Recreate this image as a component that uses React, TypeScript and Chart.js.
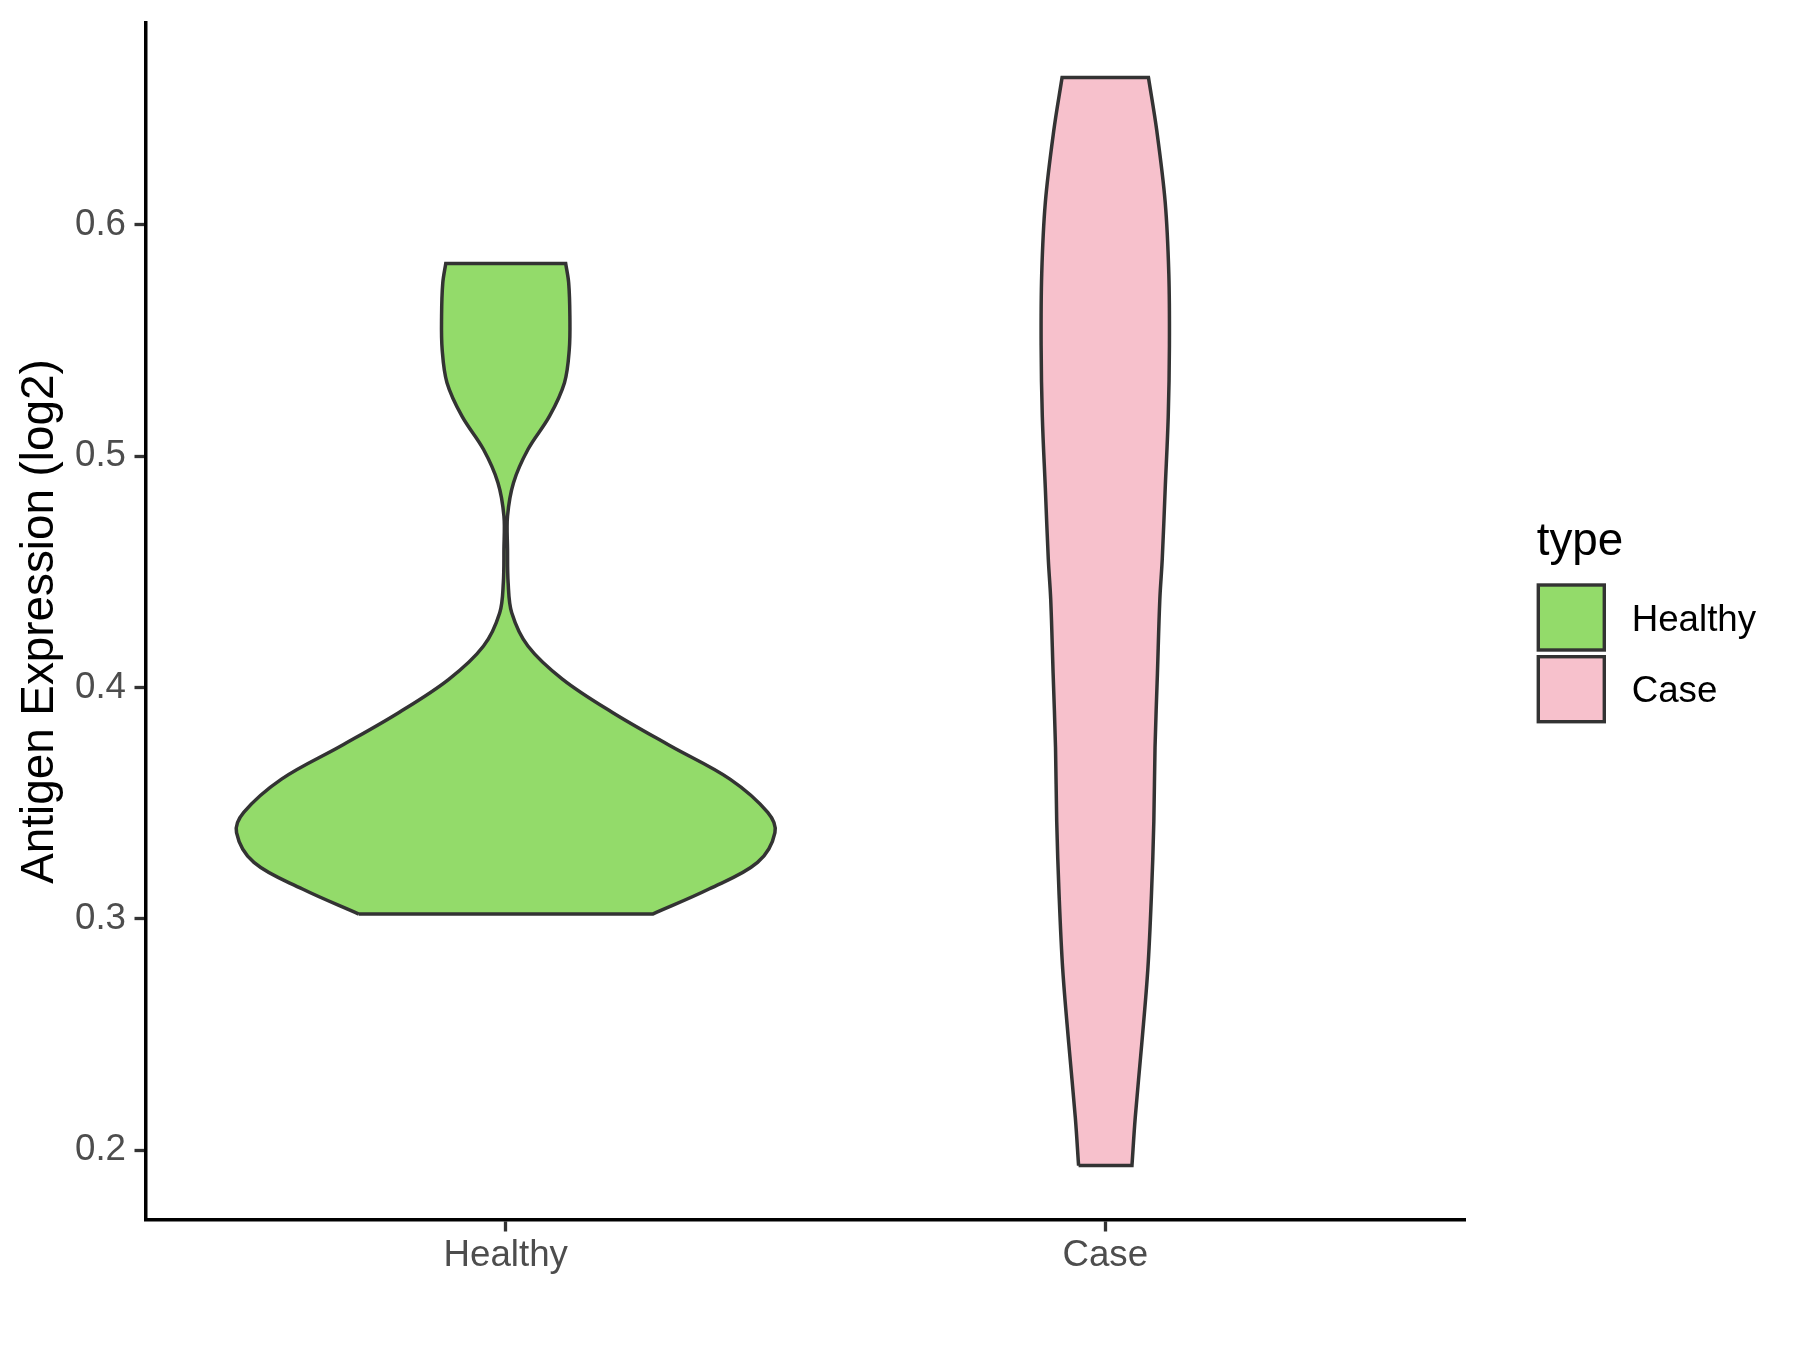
import React, { useEffect, useRef } from 'react';
import { Chart, registerables } from 'chart.js';

Chart.register(...registerables);

// ---- data ----
const categories = ['Healthy', 'Case'];
const fillColors = ['#93DB6A', '#F7C1CC'];
const legendTitle = 'type';
const yAxisTitle = 'Antigen Expression (log2)';
const yTicks = [0.2, 0.3, 0.4, 0.5, 0.6];
const yMin = 0.1699;
const yMax = 0.6871;

// Healthy violin outline: expression values (bottom -> top) and half-widths (category units)
const healthyY = [0.3021, 0.3129, 0.3244, 0.3373, 0.346, 0.3604, 0.3747, 0.3892, 0.4035, 0.4179, 0.4323, 0.4453, 0.4597, 0.474, 0.4885, 0.5028, 0.5172, 0.5317, 0.546, 0.5604, 0.5748, 0.5832];
const healthyHalfWidth = [0.245, 0.339, 0.42, 0.449, 0.437, 0.374, 0.275, 0.178, 0.095, 0.037, 0.01, 0.004, 0.003, 0.003, 0.013, 0.037, 0.073, 0.098, 0.106, 0.107, 0.105, 0.1];

// Case violin outline
const caseY = [0.1934, 0.2142, 0.2464, 0.2783, 0.3103, 0.3422, 0.3742, 0.4061, 0.4381, 0.4553, 0.4862, 0.517, 0.5479, 0.5787, 0.6095, 0.6404, 0.6636];
const caseHalfWidth = [0.0445, 0.05, 0.061, 0.071, 0.077, 0.081, 0.083, 0.087, 0.091, 0.095, 0.1, 0.105, 0.107, 0.106, 0.1, 0.086, 0.072];

const FONT = '"Liberation Sans", Arial, Helvetica, sans-serif';

function violinPath(center: number, ys: number[], hws: number[]) {
  const left = ys.map((y, i) => ({ x: center - hws[i], y }));
  const right = ys.map((y, i) => ({ x: center + hws[i], y })).reverse();
  const bl = left[0];
  const tl = left[left.length - 1];
  const tr = right[0];
  const br = right[right.length - 1];
  // duplicated corner points keep the flat top/bottom edges sharp with tension
  return [bl, ...left, { ...tl }, { ...tr }, ...right, { ...br }, { ...bl }];
}

const legendPlugin = {
  id: 'typeLegend',
  afterDraw(chart: any) {
    const ctx = chart.ctx;
    ctx.save();
    ctx.textAlign = 'left';
    ctx.textBaseline = 'alphabetic';
    ctx.fillStyle = '#000000';
    ctx.font = `45.8px ${FONT}`;
    ctx.fillText(legendTitle, 1536.7, 555);
    chart.data.datasets.forEach((ds: any, i: number) => {
      const top = 585 + i * 71.7;
      ctx.fillStyle = ds.backgroundColor;
      ctx.fillRect(1538.3, top, 66, 65);
      ctx.strokeStyle = '#333333';
      ctx.lineWidth = 3.4;
      ctx.strokeRect(1538.3, top, 66, 65);
      ctx.fillStyle = '#000000';
      ctx.font = `36.7px ${FONT}`;
      ctx.fillText(ds.label, 1631.7, top + 45.5);
    });
    ctx.restore();
  },
};

const zeroPadding = (scale: any) => {
  scale.paddingTop = 0;
  scale.paddingBottom = 0;
  scale.paddingLeft = 0;
  scale.paddingRight = 0;
};

export default function App() {
  const canvasRef = useRef<HTMLCanvasElement | null>(null);

  useEffect(() => {
    const canvas = canvasRef.current;
    if (!canvas) return;
    const series = [
      { y: healthyY, hw: healthyHalfWidth },
      { y: caseY, hw: caseHalfWidth },
    ];
    const chart = new Chart(canvas, {
      type: 'scatter',
      data: {
        datasets: categories.map((name, i) => ({
          label: name,
          data: violinPath(i + 1, series[i].y, series[i].hw),
          showLine: true,
          fill: 'shape',
          backgroundColor: fillColors[i],
          borderColor: '#333333',
          borderWidth: 3.5,
          pointRadius: 0,
          pointHoverRadius: 0,
          tension: 0.35,
        })),
      },
      options: {
        responsive: false,
        animation: false,
        devicePixelRatio: 1,
        events: [],
        layout: { padding: { left: 0, top: 23, right: 335, bottom: 0 } },
        plugins: {
          legend: { display: false },
          tooltip: { enabled: false },
        },
        scales: {
          x: {
            type: 'linear',
            min: 0.4,
            max: 2.6,
            afterBuildTicks: (axis: any) => {
              axis.ticks = categories.map((_, i) => ({ value: i + 1 }));
            },
            afterFit: (scale: any) => {
              scale.height = 130;
              zeroPadding(scale);
            },
            grid: {
              display: true,
              drawOnChartArea: false,
              drawTicks: true,
              tickLength: 11.5,
              tickColor: '#333333',
              tickWidth: 3.3,
            },
            border: { display: true, color: '#000000', width: 3.5 },
            ticks: {
              autoSkip: false,
              maxRotation: 0,
              padding: 2,
              color: '#4D4D4D',
              font: { family: FONT, size: 36.7 },
              callback: (v: any) => categories[Math.round(Number(v)) - 1] ?? '',
            },
          },
          y: {
            type: 'linear',
            min: yMin,
            max: yMax,
            afterBuildTicks: (axis: any) => {
              axis.ticks = yTicks.map((v) => ({ value: v }));
            },
            afterFit: (scale: any) => {
              scale.width = 146;
              zeroPadding(scale);
            },
            grid: {
              display: true,
              drawOnChartArea: false,
              drawTicks: true,
              tickLength: 11.5,
              tickColor: '#333333',
              tickWidth: 3.3,
            },
            border: { display: true, color: '#000000', width: 3.5 },
            ticks: {
              padding: 8.5,
              color: '#4D4D4D',
              font: { family: FONT, size: 36.7 },
              callback: (v: any) => Number(v).toFixed(1),
            },
            title: {
              display: true,
              text: yAxisTitle,
              color: '#000000',
              font: { family: FONT, size: 45.8, lineHeight: 1.2 },
              padding: { top: 12.5, bottom: 0 },
            },
          },
        },
      },
      plugins: [legendPlugin],
    } as any);
    return () => chart.destroy();
  }, []);

  return (
    <div style={{ position: 'fixed', left: 0, top: 0, width: 1800, height: 1350, background: '#ffffff' }}>
      <canvas ref={canvasRef} width={1800} height={1350} style={{ width: 1800, height: 1350, display: 'block' }} />
    </div>
  );
}
